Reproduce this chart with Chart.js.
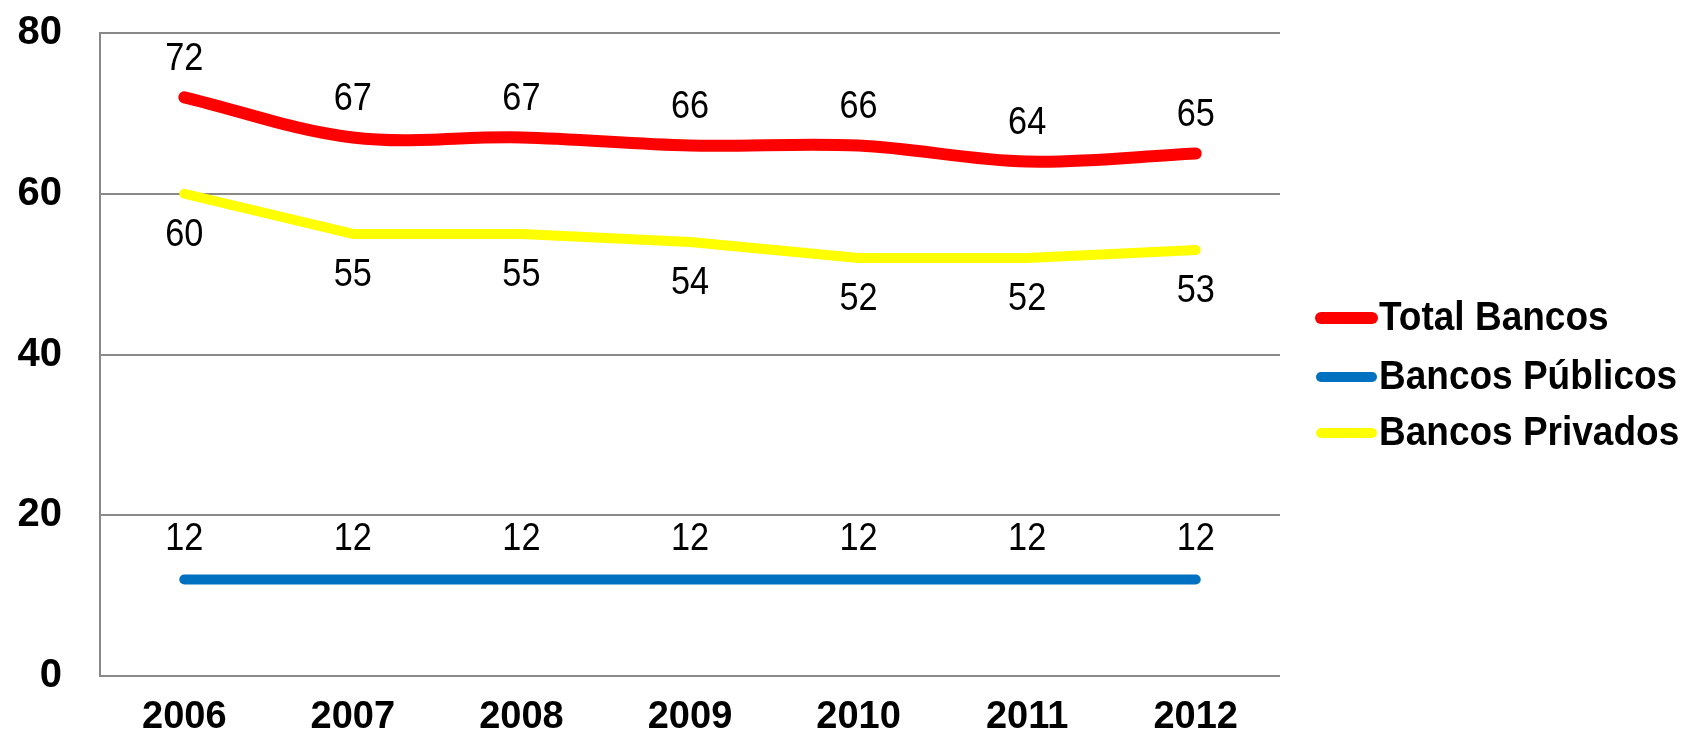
<!DOCTYPE html>
<html>
<head>
<meta charset="utf-8">
<script src="https://cdn.jsdelivr.net/npm/chart.js@4/dist/chart.umd.min.js"></script>
<style>
  html, body { margin: 0; padding: 0; background: #ffffff; }
  #wrap { width: 1681px; height: 734px; position: relative; }
</style>
</head>
<body>
<div id="wrap"><canvas id="c"></canvas></div>
<script>
const years = ['2006', '2007', '2008', '2009', '2010', '2011', '2012'];
const totalBancos = [72, 67, 67, 66, 66, 64, 65];
const bancosPublicos = [12, 12, 12, 12, 12, 12, 12];
const bancosPrivados = [60, 55, 55, 54, 52, 52, 53];
const seriesNames = ['Total Bancos', 'Bancos Públicos', 'Bancos Privados'];
const yTicks = [0, 20, 40, 60, 80];

const FONT = '"Liberation Sans", Arial, sans-serif';
const GRID = '#898989';

// label placement per dataset: negative = above point, positive = below
const labelOffsets = [-39, -41, 40];

const valueLabels = {
  id: 'valueLabels',
  afterDatasetsDraw(chart) {
    const ctx = chart.ctx;
    const sx = 0.88;
    ctx.save();
    ctx.font = '39px ' + FONT;
    ctx.fillStyle = '#000000';
    ctx.textAlign = 'center';
    ctx.textBaseline = 'middle';
    chart.data.datasets.forEach((ds, i) => {
      const meta = chart.getDatasetMeta(i);
      meta.data.forEach((pt, j) => {
        ctx.save();
        ctx.translate(pt.x, pt.y + labelOffsets[i]);
        ctx.scale(sx, 1);
        ctx.fillText(String(ds.data[j]), 0, 1);
        ctx.restore();
      });
    });
    ctx.restore();
  }
};

const sideLegend = {
  id: 'sideLegend',
  afterDraw(chart) {
    const ctx = chart.ctx;
    ctx.save();
    const x0 = 1321, x1 = 1372, textX = 1379;
    const rowY = [318, 377, 433];
    chart.data.datasets.forEach((ds, i) => {
      const y = rowY[i];
      ctx.beginPath();
      ctx.strokeStyle = ds.borderColor;
      ctx.lineWidth = ds.borderWidth;
      ctx.lineCap = 'round';
      ctx.moveTo(x0, y);
      ctx.lineTo(x1, y);
      ctx.stroke();
      ctx.save();
      ctx.translate(textX, y + 1);
      ctx.scale(0.925, 1);
      ctx.font = 'bold 40px ' + FONT;
      ctx.fillStyle = '#000000';
      ctx.textAlign = 'left';
      ctx.textBaseline = 'middle';
      ctx.fillText(ds.label, 0, 0);
      ctx.restore();
    });
    ctx.restore();
  }
};

new Chart(document.getElementById('c'), {
  type: 'line',
  data: {
    labels: years,
    datasets: [
      {
        label: seriesNames[0],
        data: totalBancos,
        borderColor: '#FF0000',
        backgroundColor: '#FF0000',
        borderWidth: 12,
        borderCapStyle: 'round',
        borderJoinStyle: 'round',
        tension: 0.35,
        pointRadius: 0,
        fill: false
      },
      {
        label: seriesNames[1],
        data: bancosPublicos,
        borderColor: '#0070C0',
        backgroundColor: '#0070C0',
        borderWidth: 10,
        borderCapStyle: 'round',
        borderJoinStyle: 'round',
        tension: 0,
        pointRadius: 0,
        fill: false
      },
      {
        label: seriesNames[2],
        data: bancosPrivados,
        borderColor: '#FFFF00',
        backgroundColor: '#FFFF00',
        borderWidth: 10,
        borderCapStyle: 'round',
        borderJoinStyle: 'round',
        tension: 0,
        pointRadius: 0,
        fill: false
      }
    ]
  },
  options: {
    responsive: true,
    maintainAspectRatio: false,
    animation: false,
    layout: { padding: { left: 0, top: 33, right: 401, bottom: 0 } },
    plugins: {
      legend: { display: false },
      tooltip: { enabled: false },
      title: { display: false }
    },
    scales: {
      x: {
        offset: true,
        grid: { display: false, drawTicks: false },
        border: { display: false },
        ticks: {
          color: '#000000',
          font: { family: FONT, size: 38, weight: 'bold' },
          padding: 19,
          maxRotation: 0,
          autoSkip: false
        },
        afterFit(scale) {
          scale.height = 58;
          scale.paddingLeft = 0; scale.paddingRight = 0;
        }
      },
      y: {
        min: 0,
        max: 80,
        afterBuildTicks(scale) { scale.ticks = yTicks.map(v => ({ value: v })); },
        grid: { color: GRID, lineWidth: 2, drawTicks: false },
        border: { display: true, color: GRID, width: 2 },
        ticks: {
          color: '#000000',
          font: { family: FONT, size: 40, weight: 'bold' },
          padding: 38
        },
        afterFit(scale) {
          scale.width = 100;
          scale.paddingTop = 0; scale.paddingBottom = 0;
        }
      }
    }
  },
  plugins: [valueLabels, sideLegend]
});
</script>
</body>
</html>
